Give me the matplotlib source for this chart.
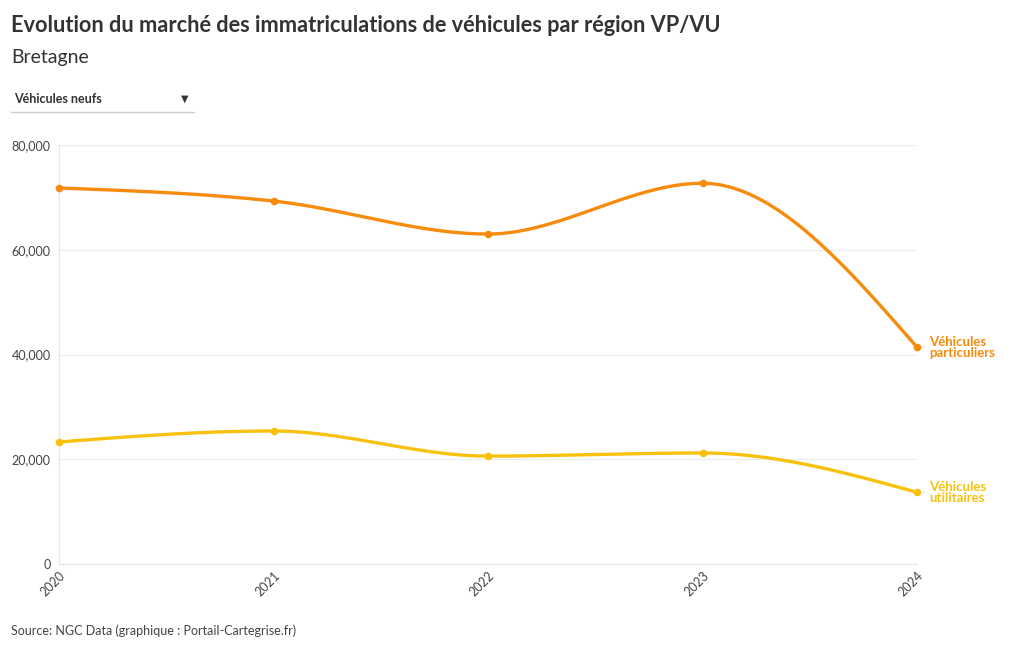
import numpy as np
import matplotlib
matplotlib.use('Agg')
import matplotlib.pyplot as plt

years = [2020, 2021, 2022, 2023, 2024]
vp = [71800, 69300, 63000, 72700, 41400]
vu = [23300, 25400, 20600, 21200, 13700]
series_names = ['Véhicules\nparticuliers', 'Véhicules\nutilitaires']
colors = ['#f68b0c', '#f7c10e']
yticks = [0, 20000, 40000, 60000, 80000]

plt.rcParams['font.family'] = ['Lato', 'DejaVu Sans']


def monotone_curve(x, y, n=40):
    """
    Smooth path through the points, like d3.curveMonotoneX.
    """
    x = np.asarray(x, float)
    y = np.asarray(y, float)
    h = np.diff(x)
    s = np.diff(y) / h
    m = np.zeros(len(x))
    for i in range(1, len(x) - 1):
        p = (s[i - 1] * h[i] + s[i] * h[i - 1]) / (h[i - 1] + h[i])
        m[i] = (np.sign(s[i - 1]) + np.sign(s[i])) * min(abs(s[i - 1]), abs(s[i]), 0.5 * abs(p))
    m[0] = (3 * s[0] - m[1]) / 2
    m[-1] = (3 * s[-1] - m[-2]) / 2
    xs, ys = [], []
    for i in range(len(x) - 1):
        t = np.linspace(0, 1, n)
        h00 = 2 * t**3 - 3 * t**2 + 1
        h10 = t**3 - 2 * t**2 + t
        h01 = -2 * t**3 + 3 * t**2
        h11 = t**3 - t**2
        xs.append(x[i] + t * h[i])
        ys.append(h00 * y[i] + h10 * h[i] * m[i] + h01 * y[i + 1] + h11 * h[i] * m[i + 1])
    return np.concatenate(xs), np.concatenate(ys)


fig = plt.figure(figsize=(10.2, 6.5), dpi=100)
ax = fig.add_axes([59 / 1020, 1 - 564 / 650, 858 / 1020, 419 / 650])

for vals, name, col in zip([vp, vu], series_names, colors):
    cx, cy = monotone_curve(years, vals)
    ax.plot(cx, cy, color=col, lw=2.4, solid_capstyle='round', zorder=3, clip_on=False)
    ax.scatter(years, vals, s=30, color=col, zorder=4, linewidths=0, clip_on=False)
    # small connector dash next to the end label
    ax.annotate('', xy=(years[-1], vals[-1]), xytext=(years[-1], vals[-1]),
                annotation_clip=False)
    ax.annotate('-', xy=(years[-1], vals[-1]), xytext=(3.5, 0), textcoords='offset points',
                ha='left', va='center', fontsize=6, color='#aaaacc', annotation_clip=False)
    ax.annotate(name, xy=(years[-1], vals[-1]), xytext=(9, 0), textcoords='offset points',
                ha='left', va='center', multialignment='left', fontsize=9.5,
                fontweight='bold', color=col, linespacing=0.9, annotation_clip=False)

ax.set_xlim(2020, 2024)
ax.set_ylim(0, 80000)
ax.set_yticks(yticks)
ax.set_yticklabels(['{:,}'.format(v) for v in yticks])
ax.set_xticks(years)
ax.set_xticklabels([str(y) for y in years], rotation=45, ha='right', rotation_mode='anchor')
ax.tick_params(axis='both', length=0, labelsize=9, colors='#444444', pad=6)
ax.tick_params(axis='x', pad=4)
ax.grid(axis='y', color='#ececec', lw=0.8)
for side in ['top', 'right']:
    ax.spines[side].set_visible(False)
ax.spines['left'].set_color('#e6e6e6')
ax.spines['bottom'].set_color('#e6e6e6')

fig.text(11 / 1020, 1 - 25 / 650, 'Evolution du marché des immatriculations de véhicules par région VP/VU',
         fontsize=15.7, fontweight='bold', color='#333333', va='center')
fig.text(11 / 1020, 1 - 58 / 650, 'Bretagne', fontsize=14, color='#333333', va='center')
fig.text(14 / 1020, 1 - 99 / 650, 'Véhicules neufs', fontsize=9, fontweight='bold', color='#333333', va='center')
fig.text(185 / 1020, 1 - 99 / 650, '\u25bc', fontsize=7, color='#333333', va='center', ha='center',
         family='DejaVu Sans')
fig.add_artist(plt.Line2D([11 / 1020, 194 / 1020], [1 - 112 / 650, 1 - 112 / 650], color='#cccccc', lw=1))
fig.text(11 / 1020, 1 - 631 / 650, 'Source: NGC Data (graphique : Portail-Cartegrise.fr)',
         fontsize=9, color='#444444', va='center')

fig.savefig('out.png', dpi=100)
